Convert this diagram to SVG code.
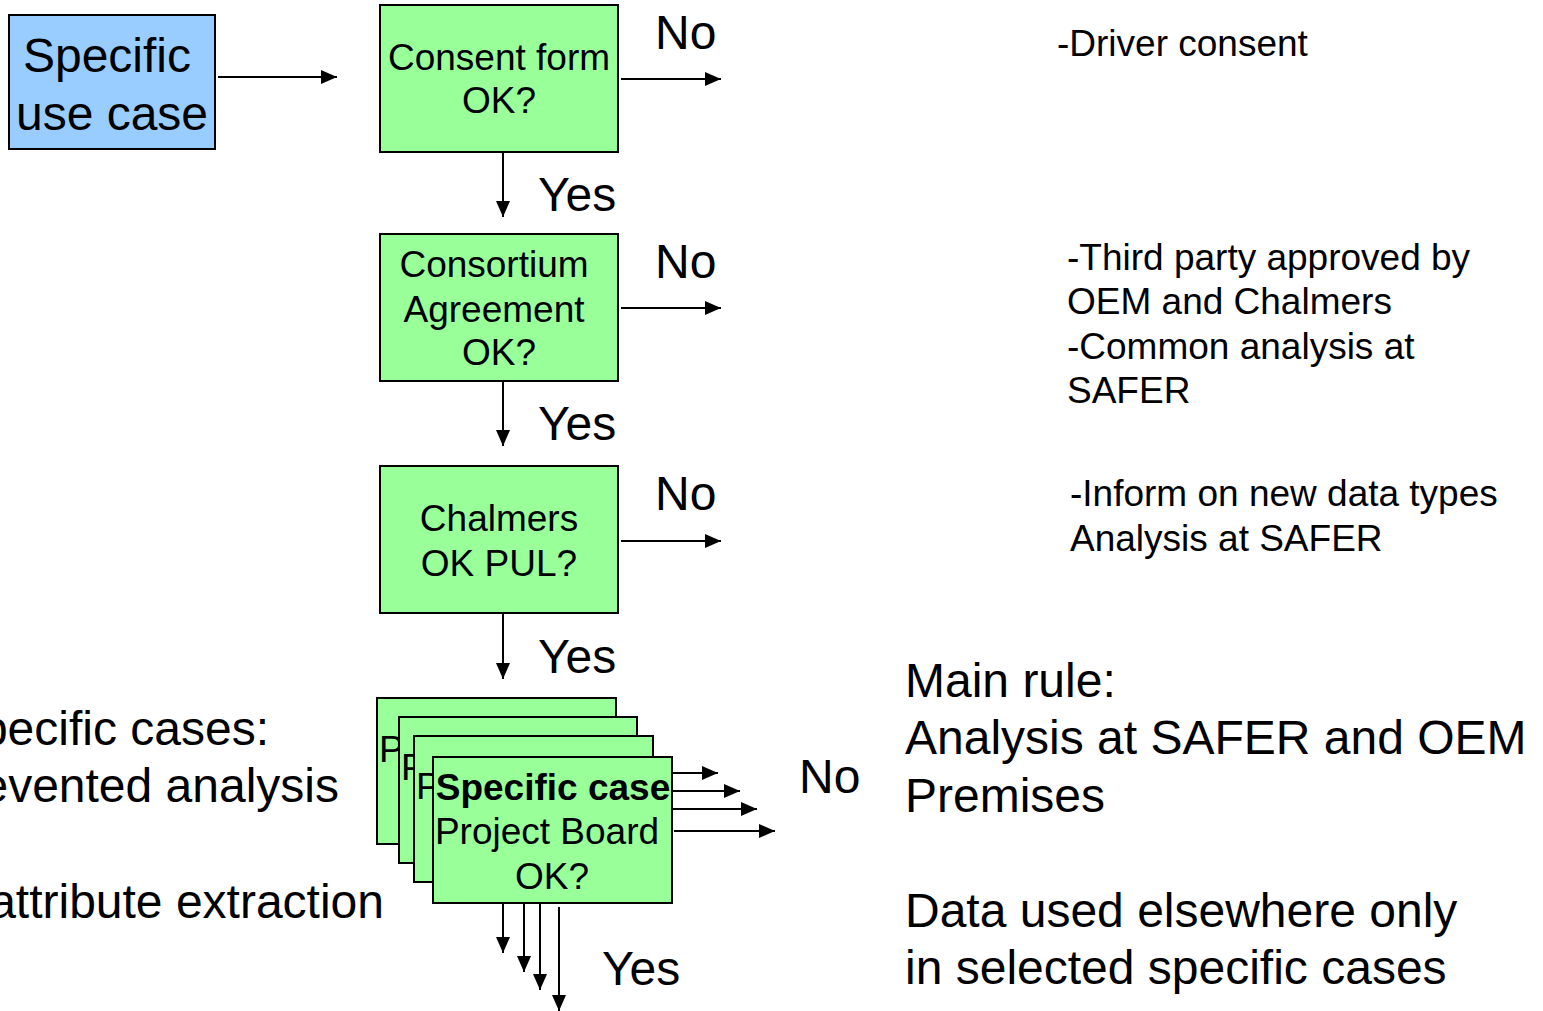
<svg xmlns="http://www.w3.org/2000/svg" width="1543" height="1011" viewBox="0 0 1543 1011">
<style>
text{font-family:"Liberation Sans",Arial,sans-serif;fill:#000}
.box{fill:#99FF99;stroke:#000;stroke-width:2}
.blue{fill:#99CCFF;stroke:#000;stroke-width:2}
.bt{font-size:37px;text-anchor:middle}
.bp{font-size:37px;text-anchor:start}
.lbl{font-size:48px}
.note{font-size:37px}
.big{font-size:48px}
.end{text-anchor:end}
.conn line{stroke:#000;stroke-width:2;marker-end:url(#ah)}
</style>
<defs>
<marker id="ah" markerUnits="userSpaceOnUse" markerWidth="18" markerHeight="16" refX="16" refY="7" orient="auto">
<path d="M0,0 L16,7 L0,14 z" fill="#000"/>
</marker>
</defs>
<rect width="1543" height="1011" fill="#fff"/>

<g id="use-case">
<rect class="blue" x="9" y="15" width="206" height="134"/>
<text class="big" x="107" y="72" text-anchor="middle">Specific</text>
<text class="big" x="112" y="130" text-anchor="middle">use case</text>
</g>

<g id="consent">
<rect class="box" x="380" y="5" width="238" height="147"/>
<text class="bt" x="499" y="70">Consent form</text>
<text class="bt" x="499" y="113">OK?</text>
</g>

<g id="consortium">
<rect class="box" x="380" y="234" width="238" height="147"/>
<text class="bt" x="494" y="277">Consortium</text>
<text class="bt" x="494" y="322">Agreement</text>
<text class="bt" x="499" y="365">OK?</text>
</g>

<g id="chalmers">
<rect class="box" x="380" y="466" width="238" height="147"/>
<text class="bt" x="499" y="531">Chalmers</text>
<text class="bt" x="499" y="576">OK PUL?</text>
</g>

<g id="project-board">
<rect class="box" x="377" y="698" width="239" height="146"/>
<text class="bp" x="379" y="762">P</text>
<rect class="box" x="399" y="717" width="238" height="146"/>
<text class="bp" x="401" y="780">P</text>
<rect class="box" x="414" y="736" width="239" height="146"/>
<text class="bp" x="416" y="799">P</text>
<rect class="box" x="433" y="757" width="239" height="146"/>
<text class="bt" x="553" y="800" font-weight="bold">Specific case</text>
<text class="bt" x="547" y="844">Project Board</text>
<text class="bt" x="552" y="889">OK?</text>
</g>

<g class="conn">
<line x1="218" y1="77" x2="337" y2="77"/>
<line x1="621" y1="79" x2="721" y2="79"/>
<line x1="503" y1="152" x2="503" y2="217"/>
<line x1="621" y1="308" x2="721" y2="308"/>
<line x1="503" y1="381" x2="503" y2="446"/>
<line x1="621" y1="541" x2="721" y2="541"/>
<line x1="503" y1="613" x2="503" y2="679"/>
<line x1="672" y1="773" x2="718" y2="773"/>
<line x1="672" y1="791" x2="740" y2="791"/>
<line x1="672" y1="809" x2="757" y2="809"/>
<line x1="674" y1="831" x2="775" y2="831"/>
<line x1="503" y1="903" x2="503" y2="953"/>
<line x1="524" y1="903" x2="524" y2="972"/>
<line x1="540" y1="903" x2="540" y2="990"/>
<line x1="559" y1="907" x2="559" y2="1011"/>
</g>

<g id="labels">
<text class="lbl" x="655" y="49">No</text>
<text class="lbl" x="538" y="211">Yes</text>
<text class="lbl" x="655" y="278">No</text>
<text class="lbl" x="538" y="440">Yes</text>
<text class="lbl" x="655" y="510">No</text>
<text class="lbl" x="538" y="673">Yes</text>
<text class="lbl" x="799" y="793">No</text>
<text class="lbl" x="602" y="985">Yes</text>
</g>

<g id="notes">
<text class="note" x="1057" y="56">-Driver consent</text>
<text class="note" x="1067" y="270">-Third party approved by</text>
<text class="note" x="1067" y="314">OEM and Chalmers</text>
<text class="note" x="1067" y="359">-Common analysis at</text>
<text class="note" x="1067" y="403">SAFER</text>
<text class="note" x="1070" y="506">-Inform on new data types</text>
<text class="note" x="1070" y="551">Analysis at SAFER</text>
<text class="big" x="905" y="697">Main rule:</text>
<text class="big" x="905" y="754">Analysis at SAFER and OEM</text>
<text class="big" x="905" y="812">Premises</text>
<text class="big" x="905" y="927">Data used elsewhere only</text>
<text class="big" x="905" y="984">in selected specific cases</text>
<text class="big end" x="269" y="745">Specific cases:</text>
<text class="big end" x="339" y="802">Prevented analysis</text>
<text class="big end" x="384" y="918">attribute extraction</text>
</g>
</svg>
